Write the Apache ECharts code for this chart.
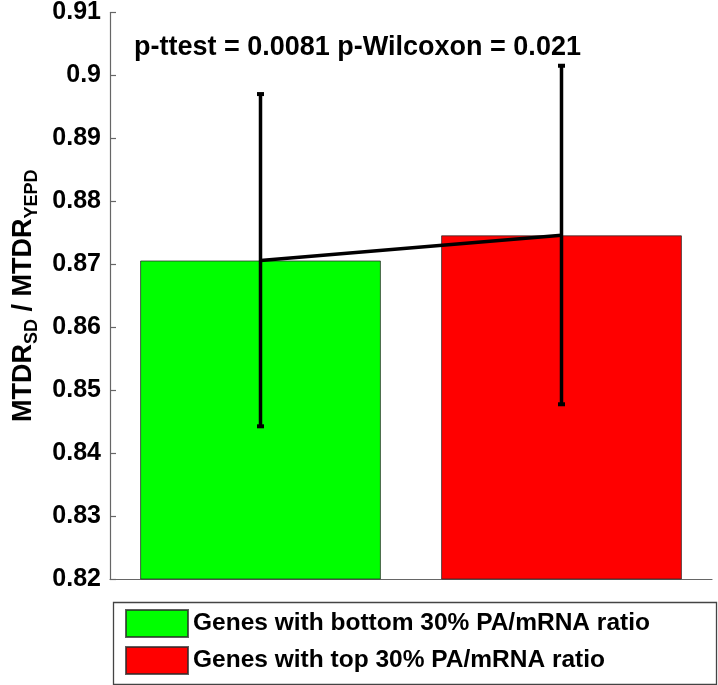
<!DOCTYPE html>
<html>
<head>
<meta charset="utf-8">
<script src="https://cdn.jsdelivr.net/npm/echarts@6/dist/echarts.min.js"></script>
<style>
html,body{margin:0;padding:0;background:#fff;}
#c{width:718px;height:685px;}
</style>
</head>
<body>
<div id="c"></div>
<script>
var categories = ['bottom 30%', 'top 30%'];
var seriesNames = ['Genes with bottom 30% PA/mRNA ratio', 'Genes with top 30% PA/mRNA ratio'];
var barColors = ['#00ff00', '#ff0000'];
var means = [0.8706, 0.8746];
var errLow = [0.8441, 0.8476];
var errHigh = [0.8972, 0.9017];
var yMin = 0.82, yMax = 0.91, yStep = 0.01;
var annotation = 'p-ttest = 0.0081 p-Wilcoxon = 0.021';

var FONT = '"Liberation Sans", Arial, sans-serif';
var chart = echarts.init(document.getElementById('c'), null, {renderer: 'canvas'});

var barSeries = seriesNames.map(function (name, i) {
  return {
    name: name,
    type: 'bar',
    barWidth: '80%',
    barGap: '-100%',
    data: categories.map(function (c, j) { return j === i ? means[j] : '-'; }),
    itemStyle: { color: barColors[i], borderColor: 'rgba(40,40,40,0.75)', borderWidth: 1 },
    emphasis: { disabled: true },
    z: 2
  };
});

var errData = categories.map(function (c, i) { return [i, errLow[i], errHigh[i]]; });

var legendTops = [609, 646];
var legends = seriesNames.map(function (name, i) {
  return {
    data: [name],
    orient: 'horizontal',
    left: 125,
    top: legendTops[i],
    padding: 0,
    itemWidth: 62,
    itemHeight: 27,
    itemGap: 6,
    icon: 'rect',
    selectedMode: false,
    textStyle: { fontFamily: FONT, fontWeight: 'bold', fontSize: 24.5, color: '#000', padding: [2, 0, 0, 0] }
  };
});

var option = {
  animation: false,
  backgroundColor: '#ffffff',
  textStyle: { fontFamily: FONT },
  grid: { left: 110, right: 6, top: 12, bottom: 106, containLabel: false },
  graphic: [{
    type: 'text',
    left: 134,
    top: 34,
    style: { text: annotation, font: 'bold 27px ' + FONT, fill: '#000' },
    z: 10
  }, {
    type: 'rect',
    left: 111,
    top: 600,
    shape: { width: 603, height: 82 },
    style: { fill: 'none', stroke: '#444', lineWidth: 1.3 },
    z: 0
  }],
  legend: legends,
  xAxis: {
    type: 'category',
    data: categories,
    boundaryGap: true,
    axisLine: { lineStyle: { color: '#666', width: 1.2 } },
    axisTick: { show: false },
    axisLabel: { show: false },
    splitLine: { show: false }
  },
  yAxis: {
    type: 'value',
    min: yMin,
    max: yMax,
    interval: yStep,
    axisLine: { show: true, lineStyle: { color: '#666', width: 1.2 } },
    axisTick: { show: true, inside: true, length: 6, lineStyle: { color: '#666', width: 1.2 } },
    splitLine: { show: false },
    axisLabel: {
      color: '#000', fontWeight: 'bold', fontSize: 25, fontFamily: FONT, margin: 9,
      formatter: function (v) { return String(Math.round(v * 100) / 100); }
    },
    name: '{a|MTDR}{s|SD}{a| / MTDR}{s|YEPD}',
    nameLocation: 'middle',
    nameGap: 68,
    nameTextStyle: {
      rich: {
        a: { fontFamily: FONT, fontWeight: 'bold', fontSize: 27, color: '#000', lineHeight: 36, verticalAlign: 'middle' },
        s: { fontFamily: FONT, fontWeight: 'bold', fontSize: 18, color: '#000', lineHeight: 36, verticalAlign: 'bottom' }
      }
    }
  },
  series: barSeries.concat([
    {
      name: 'means',
      type: 'line',
      data: means,
      symbol: 'none',
      lineStyle: { color: '#000', width: 3.5 },
      z: 5,
      silent: true
    },
    {
      name: 'err',
      type: 'custom',
      data: errData,
      z: 6,
      silent: true,
      renderItem: function (params, api) {
        var x = api.value(0);
        var lo = api.coord([x, api.value(1)]);
        var hi = api.coord([x, api.value(2)]);
        var cx = lo[0];
        return {
          type: 'group',
          children: [
            { type: 'line', shape: { x1: cx, y1: hi[1], x2: cx, y2: lo[1] }, style: { stroke: '#000', lineWidth: 3.5 } },
            { type: 'rect', shape: { x: cx - 3.5, y: hi[1] - 1, width: 7, height: 4 }, style: { fill: '#000' } },
            { type: 'rect', shape: { x: cx - 3.5, y: lo[1] - 3, width: 7, height: 4 }, style: { fill: '#000' } }
          ]
        };
      }
    }
  ])
};
chart.setOption(option);
</script>
</body>
</html>
